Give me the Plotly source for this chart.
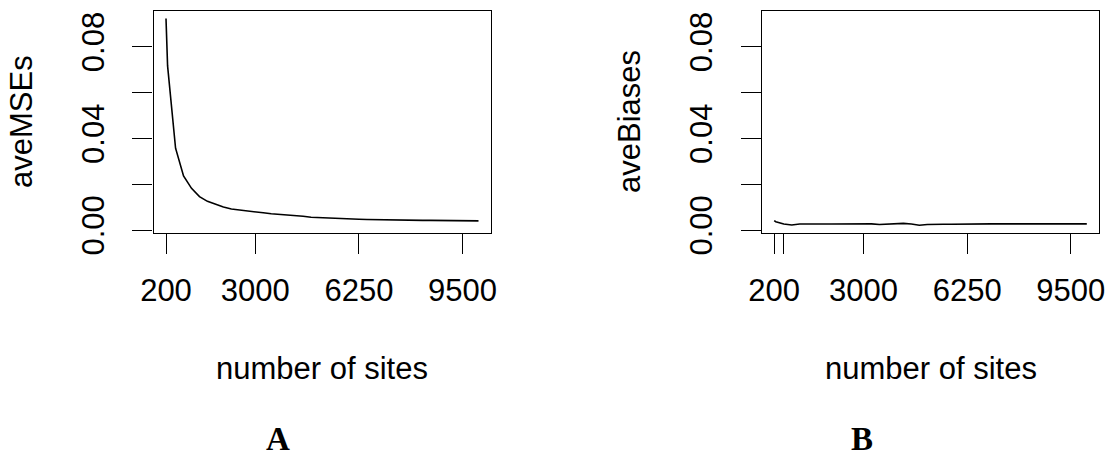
import plotly.graph_objects as go

# ---- data ----
sites = [200, 250, 500, 750, 1000, 1250, 1500, 1750, 2000, 2250, 2500, 2750,
         3000, 3250, 3500, 3750, 4000, 4250, 4500, 4750, 5000, 5250, 5500,
         5750, 6000, 6250, 6500, 6750, 7000, 7250, 7500, 7750, 8000, 8250,
         8500, 8750, 9000, 9250, 9500, 9750, 10000]

ave_mses = [0.0923, 0.0716, 0.0357, 0.0236, 0.0182, 0.0146, 0.0125, 0.0111,
            0.0100, 0.0092, 0.0087, 0.0083, 0.0079, 0.0075, 0.0071, 0.0069,
            0.0067, 0.0065, 0.0060, 0.0056, 0.0054, 0.0052, 0.0051, 0.0050,
            0.0048, 0.0047, 0.0046, 0.0045, 0.0045, 0.0044, 0.0044, 0.0043,
            0.0043, 0.0042, 0.0042, 0.0042, 0.0041, 0.0040, 0.0039, 0.0040,
            0.0040]

ave_biases = [0.0041, 0.0036, 0.0026, 0.0022, 0.0026, 0.0027, 0.0027, 0.0026,
              0.0026, 0.0026, 0.0026, 0.0027, 0.0028, 0.0027, 0.0024, 0.0025,
              0.0027, 0.0029, 0.0026, 0.0021, 0.0024, 0.0023, 0.0025, 0.0025,
              0.0026, 0.0026, 0.0026, 0.0026, 0.0027, 0.0027, 0.0027, 0.0028,
              0.0027, 0.0027, 0.0028, 0.0027, 0.0027, 0.0026, 0.0026, 0.0027,
              0.0027]

x_ticks_a = [200, 3000, 6250, 9500]
x_labels_a = ["200", "3000", "6250", "9500"]
x_ticks_b = [200, 500, 3000, 6250, 9500]
x_labels_b = ["200", "", "3000", "6250", "9500"]
y_ticks = [0.00, 0.02, 0.04, 0.06, 0.08]
y_labels = ["0.00", "", "0.04", "", "0.08"]

W, H = 1112, 458
FONT = "Liberation Sans, Arial, Helvetica, sans-serif"
FS = 31

fig = go.Figure()
fig.add_trace(go.Scatter(x=sites, y=ave_mses, mode="lines",
                         line=dict(color="black", width=1.6),
                         xaxis="x", yaxis="y", showlegend=False))
fig.add_trace(go.Scatter(x=sites, y=ave_biases, mode="lines",
                         line=dict(color="black", width=1.6),
                         xaxis="x2", yaxis="y2", showlegend=False))

axis_common = dict(showline=True, linecolor="black", linewidth=1.3, mirror=True,
                   ticks="outside", ticklen=20, tickwidth=1.3, tickcolor="black",
                   showgrid=False, zeroline=False, automargin=False,
                   tickfont=dict(family=FONT, size=FS, color="black"))

xr = [-192, 10392]
yr = [-0.0013, 0.0957]
ydom = [1 - 233 / H, 1 - 10.7 / H]

fig.update_layout(
    width=W, height=H, autosize=False,
    margin=dict(l=0, r=0, t=0, b=0, pad=0),
    paper_bgcolor="white", plot_bgcolor="white",
    xaxis=dict(domain=[153.5 / W, 491 / W], range=xr, tickvals=x_ticks_a,
               ticktext=x_labels_a, anchor="y", ticklabelstandoff=10, **axis_common),
    yaxis=dict(domain=ydom, range=yr, tickvals=y_ticks, ticktext=y_labels,
               tickangle=-90, anchor="x", ticklabelstandoff=16, **axis_common),
    xaxis2=dict(domain=[761.7 / W, 1099.3 / W], range=xr, tickvals=x_ticks_b,
                ticktext=x_labels_b, anchor="y2", ticklabelstandoff=10, **axis_common),
    yaxis2=dict(domain=ydom, range=yr, tickvals=y_ticks, ticktext=y_labels,
                tickangle=-90, anchor="x2", ticklabelstandoff=16, **axis_common),
)

ann_font = dict(family=FONT, size=FS, color="black")
ann = [
    dict(text="aveMSEs", x=21 / W, y=1 - 122 / H, textangle=-90),
    dict(text="aveBiases", x=629 / W, y=1 - 122 / H, textangle=-90),
    dict(text="number of sites", x=322 / W, y=1 - 368 / H),
    dict(text="number of sites", x=930.5 / W, y=1 - 368 / H),
]
for a in ann:
    fig.add_annotation(xref="paper", yref="paper", showarrow=False,
                       xanchor="center", yanchor="middle", font=ann_font, **a)

serif = dict(family="Liberation Serif, Times New Roman, serif", size=33, color="black")
for lab, xc in (("A", 278), ("B", 862)):
    fig.add_annotation(text="<b>" + lab + "</b>", x=xc / W, y=0.0, xref="paper",
                       yref="paper", showarrow=False, xanchor="center",
                       yanchor="bottom", borderpad=0, font=serif)

fig.write_html("out.html", config={"displayModeBar": False},
               post_script="document.body.style.margin='0px';"
                           "document.body.style.overflow='hidden';")
